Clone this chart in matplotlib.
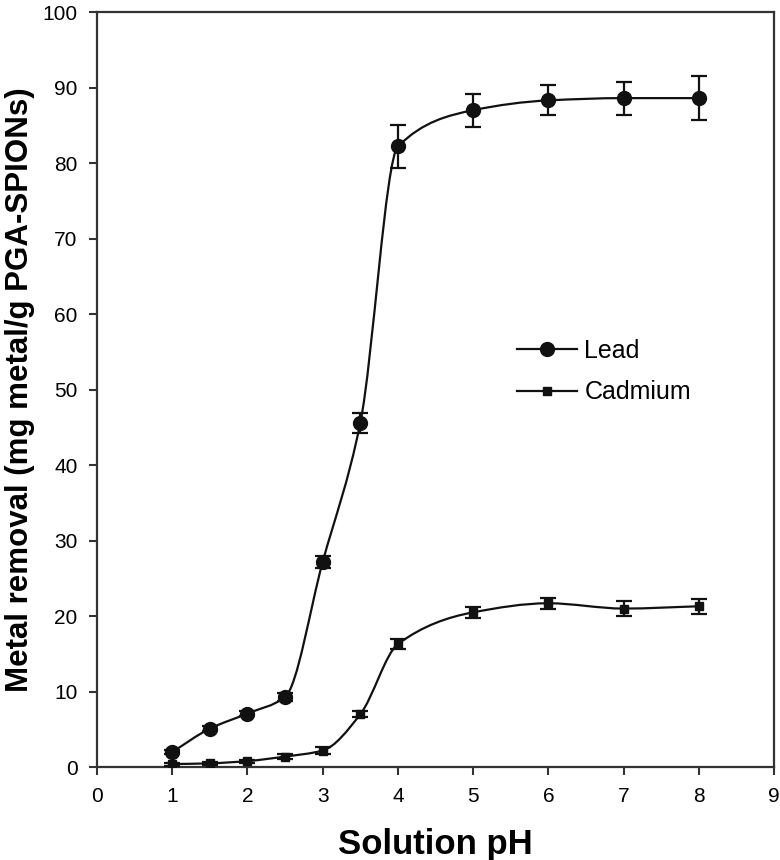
"""Metal removal vs solution pH for PGA-SPIONs"""
import numpy as np
import matplotlib
matplotlib.use("Agg")
import matplotlib.pyplot as plt
from matplotlib.path import Path
from matplotlib.patches import PathPatch

plt.rcParams["font.family"] = ["Liberation Sans", "DejaVu Sans"]

ph = [1, 1.5, 2, 2.5, 3, 3.5, 4, 5, 6, 7, 8]
lead = [2.0, 5.1, 7.1, 9.3, 27.2, 45.6, 82.2, 87.0, 88.3, 88.6, 88.6]
lead_err = [0.3, 0.3, 0.3, 0.5, 0.8, 1.3, 2.8, 2.2, 2.0, 2.2, 2.9]
cadmium = [0.4, 0.5, 0.8, 1.4, 2.2, 7.0, 16.3, 20.5, 21.7, 21.0, 21.3]
cadmium_err = [0.2, 0.2, 0.2, 0.3, 0.4, 0.4, 0.7, 0.7, 0.7, 1.0, 1.0]


def _smooth_path(x, y):
    """Cubic Bezier path through the points (monotone Hermite tangents)."""
    x = np.asarray(x, float)
    y = np.asarray(y, float)
    h = np.diff(x)
    d = np.diff(y) / h
    m = np.zeros_like(y)
    m[0], m[-1] = d[0], d[-1]
    for i in range(1, len(x) - 1):
        if d[i - 1] * d[i] > 0:
            w1 = 2 * h[i] + h[i - 1]
            w2 = h[i] + 2 * h[i - 1]
            m[i] = (w1 + w2) / (w1 / d[i - 1] + w2 / d[i])
    verts = [(x[0], y[0])]
    codes = [Path.MOVETO]
    for i in range(len(x) - 1):
        verts += [(x[i] + h[i] / 3, y[i] + m[i] * h[i] / 3),
                  (x[i + 1] - h[i] / 3, y[i + 1] - m[i + 1] * h[i] / 3),
                  (x[i + 1], y[i + 1])]
        codes += [Path.CURVE4] * 3
    return Path(verts, codes)


fig = plt.figure(figsize=(7.8, 8.6), dpi=100)
ax = fig.add_axes([0.1244, 0.108, 0.868, 0.878])

for yv, err, marker, ms, label in [(lead, lead_err, "o", 10, "Lead"),
                                   (cadmium, cadmium_err, "s", 6, "Cadmium")]:
    ax.add_patch(PathPatch(_smooth_path(ph, yv), fill=False, lw=1.6, color="#111111", zorder=2))
    ax.errorbar(ph, yv, yerr=err, fmt="none", ecolor="#111111", elinewidth=1.6,
                capsize=6, capthick=1.6, zorder=3)
    ax.plot(ph, yv, ls="none", marker=marker, ms=ms, color="#111111", zorder=4)
    # legend handle: line + marker
    ax.plot([], [], "-", marker=marker, ms=ms, color="#111111", lw=1.6, label=label)

ax.set_xlim(0, 9)
ax.set_ylim(0, 100)
ax.set_xticks(range(0, 10))
ax.set_yticks(range(0, 101, 10))
ax.tick_params(direction="out", length=6, width=1.5, color="#333333", labelsize=15, pad=8)
for s in ax.spines.values():
    s.set_linewidth(1.6)
    s.set_color("#333333")
ax.set_xlabel("Solution pH", fontsize=25, fontweight="bold", labelpad=16)
ax.set_ylabel("Metal removal (mg metal/g PGA-SPIONs)", fontsize=22.5, fontweight="bold")
ax.yaxis.set_label_coords(-0.092, 0.5)

leg = ax.legend(loc="upper left", bbox_to_anchor=(0.587, 0.597), frameon=False, fontsize=18,
                handlelength=2.4, labelspacing=0.7, handletextpad=0.3)

fig.savefig("out.png", dpi=100)
plt.close(fig)
